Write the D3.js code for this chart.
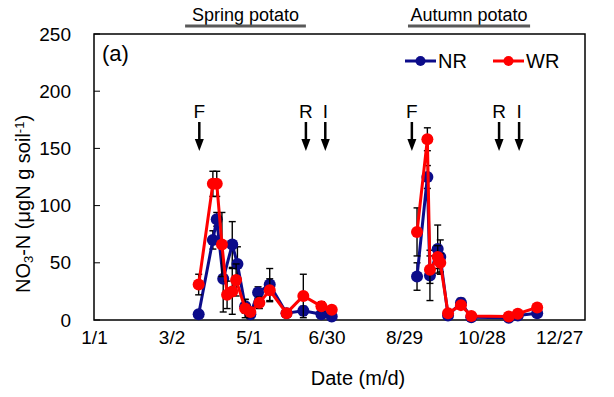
<!DOCTYPE html>
<html>
<meta charset="utf-8">
<title>NO3-N chart</title>
<script src="https://d3js.org/d3.v7.min.js"></script>
<style>
  body { margin: 0; background: #fff; }
  text { font-family: Arial, "Liberation Sans", sans-serif; fill: #000; }
</style>
<body>
<script>
  // x axis: day of year
  var tickDays = [0, 60, 120, 180, 240, 300, 360];
  var tickLabels = ["1/1", "3/2", "5/1", "6/30", "8/29", "10/28", "12/27"];
  var yTicks = [0, 50, 100, 150, 200, 250];

  // spring potato
  var nrSpringDays = [81, 92, 95, 100, 107, 111, 117, 121, 127, 136, 149, 162, 176, 184];
  var nrSpring     = [5, 70, 88, 36, 66, 49, 12, 5, 24, 31, 6, 8, 5, 3];
  var nrSpringErr  = [3, 8, 6, 29, 20, 15, 6, 4, 5, 14, 3, 4, 3, 2];
  var wrSpringDays = [81, 92, 95, 99, 103, 107, 110, 117, 121, 128, 136, 149, 162, 176, 184];
  var wrSpring     = [31, 119, 119, 66, 22, 25, 35, 10, 7, 15, 26, 6, 21, 12, 9];
  var wrSpringErr  = [9, 11, 11, 28, 12, 20, 14, 8, 4, 5, 10, 3, 19, 4, 3];

  // autumn potato
  var autumnDays  = [250, 258, 260, 266, 268, 274, 284, 292, 321, 328, 343];
  var nrAutumn    = [38, 125, 39, 62, 55, 4, 15, 2.5, 2, 4, 6];
  var nrAutumnErr = [12, 10, 22, 21, 15, 2, 4, 1, 1, 1, 2];
  var wrAutumn    = [77, 158, 44, 55, 50, 6, 13, 3.5, 3, 5.5, 11];
  var wrAutumnErr = [21, 10, 12, 10, 8, 3, 3, 1, 1, 1, 2];

  // F / R / I events
  var eventDays = [81.5, 164, 179, 246, 313.5, 329];
  var eventLabels = ["F", "R", "I", "F", "R", "I"];

  // season bars
  var seasonNames = ["Spring potato", "Autumn potato"];
  var seasonStart = [70.5, 243];
  var seasonEnd = [164, 337.5];

  var width = 614, height = 397;
  var plotL = 94, plotR = 585, plotT = 34, plotB = 320;
  var blue = "#0c0c8a", red = "#ff0000";

  var svg = d3.select("body").append("svg").attr("width", width).attr("height", height);

  var x = d3.scaleLinear().domain([0, 380]).range([plotL, plotR]);
  var y = d3.scaleLinear().domain([0, 250]).range([plotB, plotT]);

  // axes (inward ticks on y, none on x)
  var axisY = d3.axisLeft(y).tickValues(yTicks).tickSize(0).tickPadding(23);
  var gy = svg.append("g").attr("transform", "translate(" + plotL + ",0)").call(axisY);
  gy.select(".domain").remove();
  gy.selectAll("text").style("font-size", "19px");

  svg.selectAll(".ytick").data(yTicks).enter().append("line")
    .attr("x1", plotL).attr("x2", plotL + 6)
    .attr("y1", function(d) { return y(d); })
    .attr("y2", function(d) { return y(d); })
    .attr("stroke", "#000").attr("stroke-width", 1);

  var axisX = d3.axisBottom(x).tickValues(tickDays).tickSize(0).tickPadding(11)
    .tickFormat(function(d, i) { return tickLabels[i]; });
  var gx = svg.append("g").attr("transform", "translate(0," + plotB + ")").call(axisX);
  gx.select(".domain").remove();
  gx.selectAll("text").style("font-size", "19px");
  gx.attr("font-family", null); gy.attr("font-family", null);

  svg.append("rect")
    .attr("x", plotL).attr("y", plotT)
    .attr("width", plotR - plotL).attr("height", plotB - plotT)
    .attr("fill", "none").attr("stroke", "#000").attr("stroke-width", 1.5);

  // titles
  svg.append("text").attr("x", 358).attr("y", 385)
    .attr("text-anchor", "middle").style("font-size", "20px").text("Date (m/d)");

  var yt = svg.append("text")
    .attr("transform", "translate(30,204) rotate(-90)")
    .attr("text-anchor", "middle").style("font-size", "20px");
  yt.append("tspan").text("NO");
  yt.append("tspan").attr("baseline-shift", "-25%").style("font-size", "13px").text("3");
  yt.append("tspan").text("-N (μgN g soil");
  yt.append("tspan").attr("baseline-shift", "45%").style("font-size", "13px").text("-1");
  yt.append("tspan").text(")");

  svg.append("text").attr("x", 102).attr("y", 61).style("font-size", "22px").text("(a)");

  // season labels
  seasonNames.forEach(function(name, i) {
    var cx = (x(seasonStart[i]) + x(seasonEnd[i])) / 2;
    svg.append("text").attr("x", cx).attr("y", 21)
      .attr("text-anchor", "middle").style("font-size", "18px").text(name);
    svg.append("line")
      .attr("x1", x(seasonStart[i])).attr("x2", x(seasonEnd[i]))
      .attr("y1", 26).attr("y2", 26)
      .attr("stroke", "#595959").attr("stroke-width", 3);
  });

  // event arrows
  eventDays.forEach(function(d, i) {
    var ax = x(d);
    svg.append("text").attr("x", ax).attr("y", 118)
      .attr("text-anchor", "middle").style("font-size", "19px").text(eventLabels[i]);
    svg.append("line").attr("x1", ax).attr("x2", ax).attr("y1", 122).attr("y2", 141)
      .attr("stroke", "#000").attr("stroke-width", 2.5);
    svg.append("path")
      .attr("d", "M" + (ax - 4.5) + ",139L" + (ax + 4.5) + ",139L" + ax + ",151Z")
      .attr("fill", "#000");
  });

  function toPts(days, vals, errs) {
    return days.map(function(d, i) { return { d: d, v: vals[i], e: errs[i] }; });
  }

  function drawErr(pts) {
    var g = svg.append("g").attr("stroke", "#000").attr("stroke-width", 1.4);
    pts.forEach(function(p) {
      var hi = y(p.v + p.e), lo = y(Math.max(0, p.v - p.e)), px = x(p.d);
      g.append("line").attr("x1", px).attr("x2", px).attr("y1", hi).attr("y2", lo);
      g.append("line").attr("x1", px - 3.5).attr("x2", px + 3.5).attr("y1", hi).attr("y2", hi);
      g.append("line").attr("x1", px - 3.5).attr("x2", px + 3.5).attr("y1", lo).attr("y2", lo);
    });
  }

  var line = d3.line().x(function(p) { return x(p.d); }).y(function(p) { return y(p.v); });

  function drawSeries(pts, color) {
    svg.append("path").datum(pts).attr("d", line)
      .attr("fill", "none").attr("stroke", color).attr("stroke-width", 3);
    svg.append("g").selectAll("circle").data(pts).enter().append("circle")
      .attr("cx", function(p) { return x(p.d); })
      .attr("cy", function(p) { return y(p.v); })
      .attr("r", 6).attr("fill", color);
  }

  var nrS = toPts(nrSpringDays, nrSpring, nrSpringErr);
  var nrA = toPts(autumnDays, nrAutumn, nrAutumnErr);
  var wrS = toPts(wrSpringDays, wrSpring, wrSpringErr);
  var wrA = toPts(autumnDays, wrAutumn, wrAutumnErr);

  drawErr(nrS); drawErr(nrA);
  drawSeries(nrS, blue); drawSeries(nrA, blue);
  drawErr(wrS); drawErr(wrA);
  drawSeries(wrS, red); drawSeries(wrA, red);

  // legend
  var legend = [{ name: "NR", color: blue, x0: 405 }, { name: "WR", color: red, x0: 493 }];
  legend.forEach(function(l) {
    svg.append("line").attr("x1", l.x0).attr("x2", l.x0 + 31).attr("y1", 61).attr("y2", 61)
      .attr("stroke", l.color).attr("stroke-width", 3);
    svg.append("circle").attr("cx", l.x0 + 15.5).attr("cy", 61).attr("r", 5).attr("fill", l.color);
    svg.append("text").attr("x", l.x0 + 33).attr("y", 68).style("font-size", "20px").text(l.name);
  });
</script>
</body>
</html>
